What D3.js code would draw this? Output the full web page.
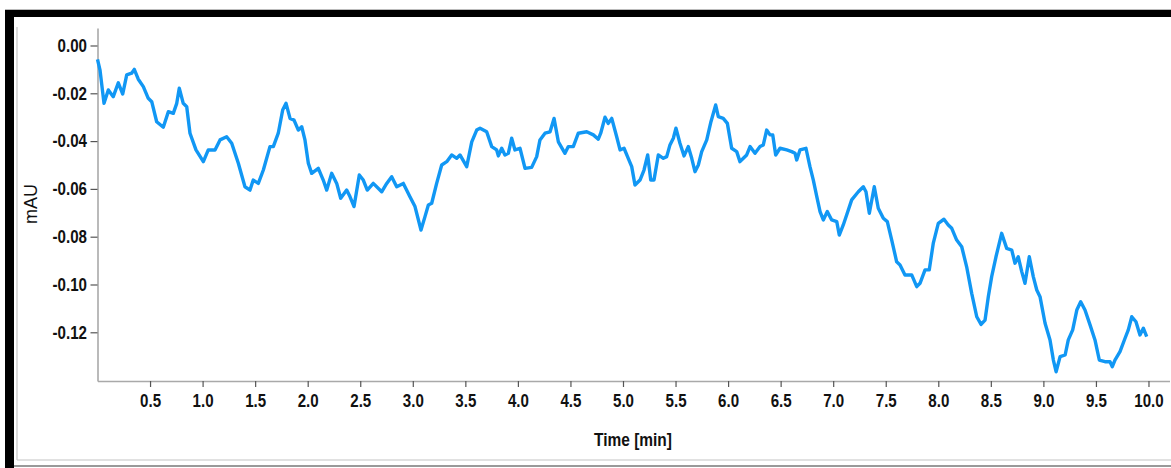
<!DOCTYPE html>
<html>
<head>
<meta charset="utf-8">
<script src="https://cdn.jsdelivr.net/npm/d3@7"></script>
<style>
  html, body { margin: 0; padding: 0; background: #fff; }
  svg { display: block; }
  .tick text { font-family: "Liberation Sans", Arial, sans-serif; font-weight: bold; fill: #111; }
</style>
</head>
<body>
<svg id="chart" width="1171" height="468"></svg>
<script>
// Detector trace: time in minutes, absorbance in mAU
const timeMin = [
  0.000, 0.024, 0.062, 0.103, 0.150, 0.198, 0.240, 0.278, 0.325, 0.350,
  0.388, 0.436, 0.483, 0.516, 0.563, 0.626, 0.674, 0.721, 0.754, 0.778,
  0.816, 0.849, 0.880, 0.937, 1.007, 1.054, 1.118, 1.166, 1.229, 1.277,
  1.340, 1.403, 1.451, 1.482, 1.530, 1.578, 1.641, 1.673, 1.720, 1.762,
  1.794, 1.832, 1.870, 1.911, 1.943, 1.974, 2.006, 2.038, 2.101, 2.148,
  2.181, 2.228, 2.276, 2.314, 2.371, 2.403, 2.441, 2.491, 2.529, 2.567,
  2.624, 2.704, 2.752, 2.799, 2.847, 2.910, 2.973, 3.021, 3.078, 3.116,
  3.148, 3.180, 3.227, 3.275, 3.323, 3.370, 3.418, 3.449, 3.513, 3.561,
  3.608, 3.640, 3.703, 3.751, 3.798, 3.814, 3.846, 3.877, 3.909, 3.941,
  3.972, 4.020, 4.068, 4.131, 4.179, 4.210, 4.258, 4.306, 4.344, 4.385,
  4.448, 4.480, 4.527, 4.575, 4.655, 4.718, 4.765, 4.788, 4.829, 4.860,
  4.893, 4.940, 4.972, 5.010, 5.050, 5.083, 5.114, 5.162, 5.200, 5.235,
  5.264, 5.295, 5.336, 5.384, 5.416, 5.447, 5.479, 5.504, 5.542, 5.581,
  5.621, 5.654, 5.685, 5.717, 5.749, 5.797, 5.837, 5.882, 5.907, 5.954,
  5.993, 6.034, 6.082, 6.113, 6.145, 6.177, 6.209, 6.256, 6.304, 6.335,
  6.367, 6.399, 6.425, 6.453, 6.494, 6.558, 6.605, 6.637, 6.653, 6.684,
  6.741, 6.779, 6.811, 6.843, 6.875, 6.906, 6.944, 6.986, 7.034, 7.058,
  7.096, 7.128, 7.176, 7.239, 7.287, 7.312, 7.344, 7.391, 7.429, 7.477,
  7.515, 7.557, 7.604, 7.636, 7.683, 7.747, 7.795, 7.826, 7.874, 7.914,
  7.952, 8.000, 8.054, 8.095, 8.128, 8.175, 8.223, 8.270, 8.318, 8.366,
  8.407, 8.445, 8.476, 8.508, 8.549, 8.603, 8.651, 8.699, 8.730, 8.761,
  8.794, 8.825, 8.866, 8.904, 8.937, 8.968, 9.016, 9.063, 9.095, 9.121,
  9.159, 9.207, 9.237, 9.279, 9.318, 9.355, 9.396, 9.444, 9.491, 9.532,
  9.586, 9.634, 9.656, 9.681, 9.729, 9.777, 9.808, 9.841, 9.881, 9.919,
  9.951, 9.983
];

const signalMAU = [
  -0.0058, -0.0103, -0.0242, -0.0186, -0.0214, -0.0156, -0.0203, -0.0123, -0.0116, -0.0100,
  -0.0141, -0.0172, -0.0221, -0.0235, -0.0319, -0.0342, -0.0277, -0.0284, -0.0242, -0.0179,
  -0.0242, -0.0256, -0.0367, -0.0437, -0.0486, -0.0437, -0.0437, -0.0395, -0.0382, -0.0409,
  -0.0493, -0.0591, -0.0605, -0.0563, -0.0577, -0.0521, -0.0423, -0.0423, -0.0367, -0.0270,
  -0.0242, -0.0305, -0.0312, -0.0354, -0.0340, -0.0395, -0.0493, -0.0535, -0.0514, -0.0563,
  -0.0605, -0.0535, -0.0577, -0.0639, -0.0605, -0.0633, -0.0674, -0.0542, -0.0563, -0.0605,
  -0.0577, -0.0612, -0.0577, -0.0549, -0.0591, -0.0577, -0.0633, -0.0674, -0.0772, -0.0716,
  -0.0667, -0.0660, -0.0577, -0.0500, -0.0486, -0.0458, -0.0472, -0.0458, -0.0507, -0.0403,
  -0.0354, -0.0346, -0.0361, -0.0423, -0.0437, -0.0462, -0.0430, -0.0458, -0.0451, -0.0388,
  -0.0437, -0.0430, -0.0514, -0.0510, -0.0465, -0.0395, -0.0367, -0.0361, -0.0305, -0.0403,
  -0.0451, -0.0423, -0.0423, -0.0367, -0.0361, -0.0374, -0.0392, -0.0367, -0.0300, -0.0326,
  -0.0305, -0.0382, -0.0437, -0.0430, -0.0472, -0.0507, -0.0584, -0.0563, -0.0521, -0.0458,
  -0.0563, -0.0563, -0.0458, -0.0472, -0.0465, -0.0416, -0.0388, -0.0346, -0.0409, -0.0462,
  -0.0423, -0.0472, -0.0528, -0.0500, -0.0444, -0.0395, -0.0319, -0.0249, -0.0298, -0.0305,
  -0.0326, -0.0430, -0.0444, -0.0486, -0.0472, -0.0458, -0.0423, -0.0451, -0.0423, -0.0416,
  -0.0354, -0.0374, -0.0374, -0.0458, -0.0430, -0.0437, -0.0444, -0.0451, -0.0479, -0.0437,
  -0.0430, -0.0507, -0.0563, -0.0630, -0.0695, -0.0730, -0.0695, -0.0730, -0.0737, -0.0793,
  -0.0751, -0.0709, -0.0646, -0.0612, -0.0591, -0.0612, -0.0702, -0.0591, -0.0681, -0.0723,
  -0.0737, -0.0814, -0.0905, -0.0918, -0.0960, -0.0960, -0.1009, -0.0995, -0.0939, -0.0939,
  -0.0828, -0.0744, -0.0727, -0.0751, -0.0765, -0.0814, -0.0842, -0.0926, -0.1037, -0.1135,
  -0.1167, -0.1149, -0.1051, -0.0967, -0.0884, -0.0786, -0.0849, -0.0856, -0.0911, -0.0884,
  -0.0946, -0.0995, -0.0884, -0.0967, -0.1023, -0.1051, -0.1162, -0.1232, -0.1316, -0.1365,
  -0.1302, -0.1295, -0.1232, -0.1190, -0.1107, -0.1072, -0.1107, -0.1169, -0.1232, -0.1316,
  -0.1323, -0.1323, -0.1344, -0.1316, -0.1281, -0.1225, -0.1190, -0.1135, -0.1156, -0.1211,
  -0.1183, -0.1218
];

const xTickValues = [0.5, 1.0, 1.5, 2.0, 2.5, 3.0, 3.5, 4.0, 4.5, 5.0,
                     5.5, 6.0, 6.5, 7.0, 7.5, 8.0, 8.5, 9.0, 9.5, 10.0];
const yTickValues = [0.00, -0.02, -0.04, -0.06, -0.08, -0.10, -0.12];

const xTitle = "Time [min]";
const yTitle = "mAU";

const svg = d3.select("#chart");
const W = 1171, H = 468;

// Window frame around the plot
svg.append("rect").attr("x", 5).attr("y", 9).attr("width", W - 5).attr("height", 1).attr("fill", "#bbb");
svg.append("rect").attr("x", 5).attr("y", 10).attr("width", W - 5).attr("height", 7).attr("fill", "#000");
svg.append("rect").attr("x", 5).attr("y", 10).attr("width", 9).attr("height", H - 10).attr("fill", "#000");
svg.append("line").attr("x1", 17).attr("x2", 17).attr("y1", 27).attr("y2", 460)
  .attr("stroke", "#c4c4c4").attr("stroke-width", 1.2);
svg.append("line").attr("x1", 17).attr("x2", W).attr("y1", 460).attr("y2", 460)
  .attr("stroke", "#c4c4c4").attr("stroke-width", 1.2);
svg.append("line").attr("x1", 14).attr("x2", W).attr("y1", 466).attr("y2", 466)
  .attr("stroke", "#777").attr("stroke-width", 1.5);

// Scales
const plotLeft = 97.5, plotRight = 1169.5, plotTop = 28, plotBottom = 381;
const x = d3.scaleLinear().domain([0, 10.2]).range([plotLeft, plotRight]);
const y = d3.scaleLinear().domain([-0.14038, 0.00732]).range([plotBottom, plotTop]);

// Tick labels use a plain hyphen for negatives and a narrowed bold face
const hyphen = s => s.replace("\u2212", "-");
const fmtY = d => hyphen(d3.format(".2f")(Math.abs(d) < 1e-9 ? 0 : d));
const squeeze = 0.84;

// Axes
const xAxis = svg.append("g")
  .attr("transform", `translate(0,${plotBottom})`)
  .call(d3.axisBottom(x).tickValues(xTickValues).tickFormat(d3.format(".1f"))
    .tickSizeInner(6).tickSizeOuter(0).tickPadding(7));
const yAxis = svg.append("g")
  .attr("transform", `translate(${plotLeft},0)`)
  .call(d3.axisLeft(y).tickValues(yTickValues).tickFormat(fmtY)
    .tickSizeInner(7).tickSizeOuter(0).tickPadding(3));

[xAxis, yAxis].forEach(g => {
  g.select(".domain").attr("stroke", "#a9a9a9").attr("stroke-width", 1.6);
  g.selectAll(".tick line").attr("stroke", "#555").attr("stroke-width", 1.2);
  g.selectAll(".tick text").attr("font-size", 18).attr("fill", "#111")
    .attr("transform", `scale(${squeeze},1)`);
});
yAxis.selectAll(".tick text").attr("x", -10.5 / squeeze);

// Axis titles
svg.append("text")
  .attr("transform", `translate(633,446) scale(0.86,1)`)
  .attr("text-anchor", "middle")
  .attr("font-family", "'Liberation Sans', Arial, sans-serif")
  .attr("font-weight", "bold").attr("font-size", 18).attr("fill", "#111")
  .text(xTitle);

svg.append("text")
  .attr("transform", "translate(37,204) rotate(-90)")
  .attr("text-anchor", "middle")
  .attr("font-family", "'Liberation Sans', Arial, sans-serif")
  .attr("font-size", 18).attr("fill", "#111")
  .text(yTitle);

// Signal trace
const points = timeMin.map((t, i) => [t, signalMAU[i]]);
const line = d3.line().x(d => x(d[0])).y(d => y(d[1]));
svg.append("path")
  .datum(points)
  .attr("fill", "none")
  .attr("stroke", "#1197f4")
  .attr("stroke-width", 3.4)
  .attr("stroke-linejoin", "round")
  .attr("d", line);
</script>
</body>
</html>
